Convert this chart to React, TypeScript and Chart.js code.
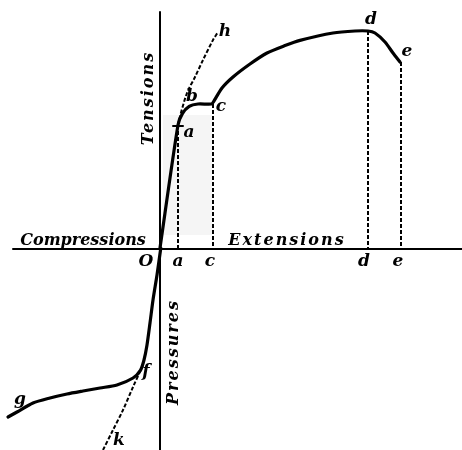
import React, { useEffect, useRef } from "react";
import { Chart, registerables } from "chart.js";
Chart.register(...registerables);

// Units: extension (x) and stress (y), arbitrary
const X_MIN = -40;
const X_MAX = 75.5;
const Y_MIN = -50.5;
const Y_MAX = 62;

const tensionCurve = [
  { x: 0, y: 0 },
  { x: 4.5, y: 30.75 },
  { x: 5.6, y: 33.6 },
  { x: 7.3, y: 35.4 },
  { x: 9.5, y: 36 },
  { x: 12.9, y: 36 },
  { x: 13.4, y: 36.6 },
  { x: 15.5, y: 40 },
  { x: 18.25, y: 42.75 },
  { x: 22.5, y: 46 },
  { x: 26.75, y: 48.75 },
  { x: 31.25, y: 50.6 },
  { x: 35, y: 51.9 },
  { x: 43.25, y: 53.75 },
  { x: 48.75, y: 54.25 },
  { x: 52, y: 54.25 },
  { x: 53.75, y: 53.75 },
  { x: 56.25, y: 51.5 },
  { x: 58.25, y: 48.75 },
  { x: 60, y: 46.5 },
];

const compressionCurve = [
  { x: 0.2, y: 0 },
  { x: -0.75, y: -6.75 },
  { x: -1.75, y: -13 },
  { x: -2.5, y: -18.75 },
  { x: -3.25, y: -24.25 },
  { x: -4, y: -28 },
  { x: -4.9, y: -30.6 },
  { x: -6.75, y: -32.5 },
  { x: -10.75, y: -34.25 },
  { x: -15, y: -35 },
  { x: -19.25, y: -35.75 },
  { x: -23.25, y: -36.5 },
  { x: -27.5, y: -37.5 },
  { x: -31.75, y: -38.75 },
  { x: -35.75, y: -41 },
  { x: -38, y: -42.25 },
];

const elasticTension = [
  { x: 4.5, y: 30.75 },
  { x: 4.75, y: 32 },
  { x: 6.75, y: 38.75 },
  { x: 8.75, y: 42.75 },
  { x: 10.75, y: 47 },
  { x: 13.25, y: 52 },
  { x: 14.5, y: 54 },
];

const elasticCompression = [
  { x: -4.25, y: -29.25 },
  { x: -6.75, y: -34.75 },
  { x: -9.25, y: -40.5 },
  { x: -11.75, y: -45.5 },
  { x: -14.25, y: -50.5 },
];

const dropLineX = [4.5, 13.25, 52, 60.25];
const dropLineTop = [30.75, 36, 54.25, 46.5];

const horizontalAxis = [
  { x: -36.75, y: -0.25 },
  { x: 75.5, y: -0.25 },
];
const verticalAxis = [
  { x: 0, y: 59 },
  { x: 0, y: -50.5 },
];
const tickA = [
  { x: 3.25, y: 30.5 },
  { x: 5.75, y: 30.5 },
];

const shadeBox = { x0: 0.75, x1: 13, y0: 3.25, y1: 33.25 };

const labelTexts = ["Compressions", "Extensions", "Tensions", "Pressures", "O", "a", "c", "d", "e", "a", "b", "c", "d", "e", "h", "f", "g", "k"];
const labelX = [-19.25, 31.75, -2.75, 3.5, -3.5, 4.5, 12.5, 51, 59.5, 7.25, 8, 15.25, 52.75, 61.75, 16.25, -3.5, -35, -10.25];
const labelY = [1.9, 1.9, 37.5, -26, -3.5, -3.5, -3.5, -3.5, -3.5, 28.75, 37.75, 35.25, 57, 49, 54, -31, -38, -48.25];
const labelRot = [0, 0, -90, -90, 0, 0, 0, 0, 0, 0, 0, 0, 0, 0, 0, 0, 0, 0];
const labelSize = [16, 16, 16, 16, 17, 17, 17, 17, 17, 17, 17, 17, 17, 17, 17, 17, 17, 17];
const labelSpacing = [0, 2, 2, 2, 0, 0, 0, 0, 0, 0, 0, 0, 0, 0, 0, 0, 0, 0];

const FONT_FAMILY = '"DejaVu Serif", serif';

export default function App() {
  const ref = useRef<HTMLCanvasElement | null>(null);

  useEffect(() => {
    document.body.style.margin = "0";
    if (!ref.current) return;

    const solid = (data: any[], width: number, tension = 0.3) => ({
      data,
      showLine: true,
      borderColor: "#000",
      borderWidth: width,
      pointRadius: 0,
      tension,
      fill: false,
      borderCapStyle: "round",
      borderJoinStyle: "round",
    });
    const dashed = (data: any[], width: number, tension = 0.3) => ({
      ...solid(data, width, tension),
      borderDash: [4, 2],
      borderCapStyle: "butt",
    });

    const dropLines = dropLineX.map((x, i) =>
      dashed(
        [
          { x, y: dropLineTop[i] },
          { x, y: 0 },
        ],
        2,
        0
      )
    );

    const shadePlugin = {
      id: "shade",
      beforeDatasetsDraw(chart: any) {
        const { ctx, scales } = chart;
        const px0 = scales.x.getPixelForValue(shadeBox.x0);
        const px1 = scales.x.getPixelForValue(shadeBox.x1);
        const py0 = scales.y.getPixelForValue(shadeBox.y0);
        const py1 = scales.y.getPixelForValue(shadeBox.y1);
        ctx.save();
        ctx.fillStyle = "rgba(0,0,0,0.04)";
        ctx.fillRect(px0, py1, px1 - px0, py0 - py1);
        ctx.restore();
      },
    };

    const labelPlugin = {
      id: "labels",
      afterDatasetsDraw(chart: any) {
        const { ctx, scales } = chart;
        ctx.save();
        ctx.fillStyle = "#000";
        ctx.textAlign = "center";
        ctx.textBaseline = "middle";
        labelTexts.forEach((t, i) => {
          const px = scales.x.getPixelForValue(labelX[i]);
          const py = scales.y.getPixelForValue(labelY[i]);
          ctx.save();
          ctx.translate(px, py);
          ctx.rotate((labelRot[i] * Math.PI) / 180);
          ctx.font = `italic bold ${labelSize[i]}px ${FONT_FAMILY}`;
          (ctx as any).letterSpacing = `${labelSpacing[i]}px`;
          ctx.fillText(t, 0, 0);
          ctx.restore();
        });
        ctx.restore();
      },
    };

    const chart = new Chart(ref.current, {
      type: "scatter",
      data: {
        datasets: [
          solid(horizontalAxis, 2, 0),
          solid(verticalAxis, 2, 0),
          ...dropLines,
          dashed(elasticTension, 2),
          dashed(elasticCompression, 2),
          solid(tickA, 2, 0),
          solid(tensionCurve, 3.2, 0.25),
          solid(compressionCurve, 3.2, 0.25),
        ] as any,
      },
      options: {
        animation: false,
        responsive: false,
        maintainAspectRatio: false,
        layout: { padding: 0 },
        events: [],
        plugins: {
          legend: { display: false },
          tooltip: { enabled: false },
          title: { display: false },
        },
        scales: {
          x: { type: "linear", display: false, min: X_MIN, max: X_MAX },
          y: { type: "linear", display: false, min: Y_MIN, max: Y_MAX },
        },
      },
      plugins: [shadePlugin, labelPlugin],
    });

    return () => chart.destroy();
  }, []);

  return (
    <div style={{ width: 462, height: 450, background: "#fff" }}>
      <canvas ref={ref} width={462} height={450} style={{ display: "block" }} />
    </div>
  );
}
